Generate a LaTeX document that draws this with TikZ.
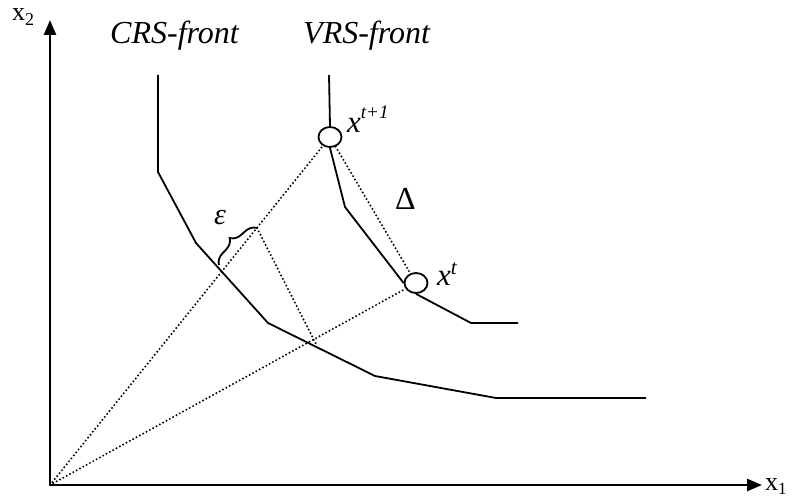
\documentclass[tikz,border=0pt]{standalone}
\usepackage{fontspec}
\setmainfont{Liberation Serif}
\usetikzlibrary{arrows.meta,shapes.geometric,decorations.pathreplacing}
\begin{document}
\begin{tikzpicture}[x=1pt,y=-1pt,
  front/.style={line width=1.8pt,line join=miter},
  axisline/.style={line width=2.6pt,-{Triangle[length=15pt,width=12pt]}},
  dotline/.style={line width=2.2pt,line cap=round,dash pattern=on 0pt off 3.8pt},
  pt/.style={ellipse,draw,line width=1.8pt,minimum width=23pt,minimum height=20pt,inner sep=0pt},
  lbl/.style={inner sep=0pt,anchor=base west}]
\useasboundingbox (0,0) rectangle (792,497);
% axes
\coordinate (O) at (50,485);
\coordinate (Y) at (50,20);
\coordinate (X) at (762,485);
\draw[axisline] (O) -- (Y);
\draw[axisline] (O) -- (X);
\node[lbl] (x2) at (12,21) {\fontsize{26}{30}\selectfont x\raisebox{-5pt}{\fontsize{18}{18}\selectfont 2}};
\node[lbl] (x1) at (765,490) {\fontsize{26}{30}\selectfont x\raisebox{-4pt}{\fontsize{17}{17}\selectfont 1}};
% CRS front
\coordinate (c0) at (158,75);
\coordinate (c1) at (158,172);
\coordinate (c2) at (196,243);
\coordinate (c3) at (268,323);
\coordinate (c4) at (375,376);
\coordinate (c5) at (496,398);
\coordinate (c6) at (646,398);
\draw[front] (c0) -- (c1) -- (c2) -- (c3) -- (c4) -- (c5) -- (c6);
% VRS front
\node[pt] (xt1) at (330,137) {};
\node[pt] (xt) at (416,283) {};
\coordinate (v0) at (329,75);
\coordinate (v1) at (345,207);
\coordinate (v2) at (471,323);
\coordinate (v3) at (518,323);
\draw[front] (v0) -- (xt1.north);
\draw[front] (xt1.south) -- (v1) -- (xt.west);
\draw[front] (xt.south) -- (v2) -- (v3);
% dotted rays
\draw[dotline] (O) -- (xt1);
\draw[dotline] (O) -- (xt);
\draw[dotline] (xt1) -- (xt);
\coordinate (E) at (257,228);
\coordinate (B) at (219,265);
\coordinate (F) at (316,344);
\draw[dotline] (E) -- (F);
% brace
\draw[line width=1.8pt,decorate,decoration={brace,amplitude=12pt}] (B) -- (E);
% labels
\node[lbl] (crs) at (110,44) {\fontsize{32}{36}\selectfont\itshape CRS-front};
\node[lbl] (vrs) at (303,44) {\fontsize{32}{36}\selectfont\itshape VRS-front};
\node[lbl] (lxt1) at (347,133) {\fontsize{31}{34}\selectfont\itshape x\raisebox{14pt}{\fontsize{19}{19}\selectfont t+1}};
\node[lbl] (lxt) at (437,285) {\fontsize{31}{34}\selectfont\itshape x\raisebox{11pt}{\fontsize{21}{21}\selectfont t}};
\node[lbl] (delta) at (395,210) {\fontsize{32}{36}\selectfont Δ};
\node[lbl] (eps) at (214,225) {\fontsize{30}{34}\selectfont\itshape ε};
\end{tikzpicture}
\end{document}
